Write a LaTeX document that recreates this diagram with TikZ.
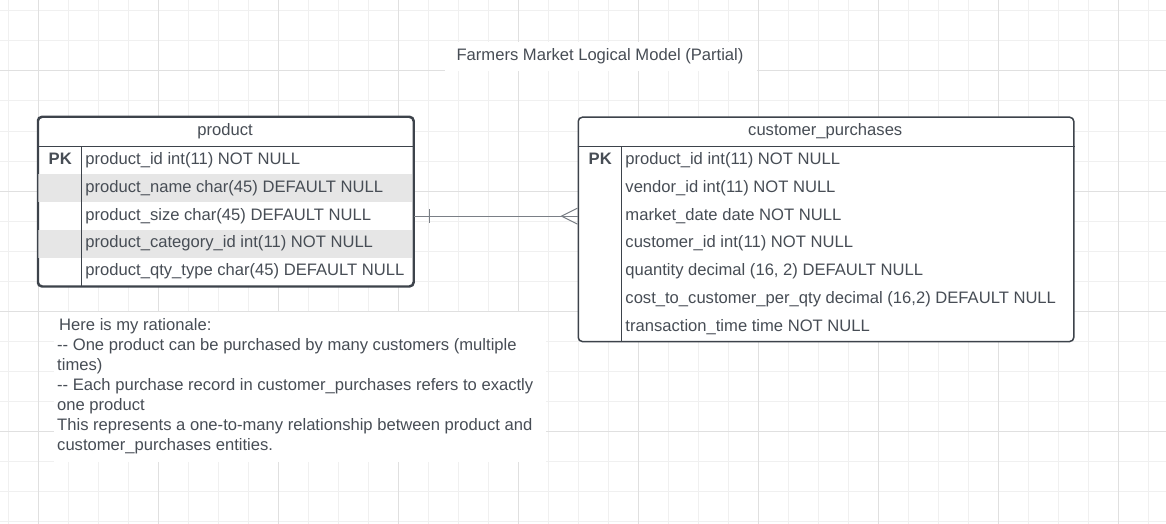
\documentclass[tikz,border=0pt]{standalone}
\usepackage{fontspec}
\setmainfont{Liberation Sans}
\usetikzlibrary{calc}
\definecolor{ink}{HTML}{3D434B}
\definecolor{txt}{HTML}{474D55}
\definecolor{gridminor}{HTML}{F0F0F0}
\definecolor{gridmajor}{HTML}{E0E0E0}
\definecolor{shade}{HTML}{E6E6E6}
\definecolor{conn}{HTML}{7A7F86}
\tikzset{
  fnt/.style={font=\fontsize{16.6}{20}\selectfont},
  tablebox/.style={draw=ink, line width=1.5pt, fill=white, rounded corners=4pt, inner sep=0pt, anchor=north west},
  rowbox/.style={inner sep=0pt, anchor=north west, minimum height=27.75pt},
  shaded/.style={rowbox, fill=shade},
  celltext/.style={fnt, text=txt, inner sep=0pt, anchor=west, text height=11.5pt, text depth=3.5pt},
  pktext/.style={celltext, anchor=center, font=\fontsize{16.6}{20}\selectfont\bfseries},
  headtext/.style={celltext, anchor=center},
  sepline/.style={draw=ink, line width=1.5pt},
  connector/.style={draw=conn, line width=1pt},
  whitebg/.style={fill=white, inner sep=0pt, anchor=north west}
}
\begin{document}
\begin{tikzpicture}[x=1pt,y=-1pt]
\fill[white] (0,0) rectangle (1166,524);
\useasboundingbox (0,0) rectangle (1166,524);
% grid
\foreach \x in {8,38,...,1165} \draw[gridminor, line width=1pt] (\x,0) -- (\x,524);
\foreach \y in {11,41,...,523} \draw[gridminor, line width=1pt] (0,\y) -- (1166,\y);
\foreach \x in {38,158,...,1165} \draw[gridmajor, line width=1pt] (\x,0) -- (\x,524);
\foreach \y in {71,191,...,523} \draw[gridmajor, line width=1pt] (0,\y) -- (1166,\y);

% title
\node[whitebg, minimum width=312pt, minimum height=29pt] (titlebg) at (445,42) {};
\node[headtext] (title) at (600,57) {Farmers Market Logical Model (Partial)};

% ---------- product table ----------
\node[tablebox, minimum width=375pt, minimum height=168.75pt] (product) at (37.5,116.5) {};
\node[headtext] (ptitle) at (225,131.5) {product};
\node[rowbox, minimum width=373.5pt] (p1) at (38.25,146.5) {};
\node[shaded, minimum width=373.5pt] (p2) at (38.25,174.25) {};
\node[rowbox, minimum width=373.5pt] (p3) at (38.25,202) {};
\node[shaded, minimum width=373.5pt] (p4) at (38.25,229.75) {};
\node[rowbox, minimum width=373.5pt] (p5) at (38.25,257.5) {};
\draw[sepline] (product.west |- p1.north) -- (product.east |- p1.north);
\draw[sepline] ($(product.west |- p1.north)+(44,0)$) -- ($(product.south west)+(44,0)$);
\node[pktext] (ppk) at ($(p1.west)+(22,0)$) {PK};
\node[celltext] (p1t) at ($(p1.west)+(47,0)$) {product\_id int(11) NOT NULL};
\node[celltext] (p2t) at ($(p2.west)+(47,0)$) {product\_name char(45) DEFAULT NULL};
\node[celltext] (p3t) at ($(p3.west)+(47,0)$) {product\_size char(45) DEFAULT NULL};
\node[celltext] (p4t) at ($(p4.west)+(47,0)$) {product\_category\_id int(11) NOT NULL};
\node[celltext] (p5t) at ($(p5.west)+(47,0)$) {product\_qty\_type char(45) DEFAULT NULL};
\draw[draw=ink, line width=1.5pt, rounded corners=4pt] (product.north west) rectangle (product.south east);

% ---------- customer_purchases table ----------
\node[tablebox, minimum width=495.5pt, minimum height=224.25pt] (cust) at (577.5,116.5) {};
\node[headtext] (ctitle) at (825.25,131.5) {customer\_purchases};
\node[rowbox, minimum width=494pt] (c1) at (578.25,146.5) {};
\node[rowbox, minimum width=494pt] (c2) at (578.25,174.25) {};
\node[rowbox, minimum width=494pt] (c3) at (578.25,202) {};
\node[rowbox, minimum width=494pt] (c4) at (578.25,229.75) {};
\node[rowbox, minimum width=494pt] (c5) at (578.25,257.5) {};
\node[rowbox, minimum width=494pt] (c6) at (578.25,285.25) {};
\node[rowbox, minimum width=494pt] (c7) at (578.25,313) {};
\draw[sepline] (cust.west |- c1.north) -- (cust.east |- c1.north);
\draw[sepline] ($(cust.west |- c1.north)+(44,0)$) -- ($(cust.south west)+(44,0)$);
\node[pktext] (cpk) at ($(c1.west)+(22,0)$) {PK};
\node[celltext] (c1t) at ($(c1.west)+(47,0)$) {product\_id int(11) NOT NULL};
\node[celltext] (c2t) at ($(c2.west)+(47,0)$) {vendor\_id int(11) NOT NULL};
\node[celltext] (c3t) at ($(c3.west)+(47,0)$) {market\_date date NOT NULL};
\node[celltext] (c4t) at ($(c4.west)+(47,0)$) {customer\_id int(11) NOT NULL};
\node[celltext] (c5t) at ($(c5.west)+(47,0)$) {quantity decimal (16, 2) DEFAULT NULL};
\node[celltext] (c6t) at ($(c6.west)+(47,0)$) {cost\_to\_customer\_per\_qty decimal (16,2) DEFAULT NULL};
\node[celltext] (c7t) at ($(c7.west)+(47,0)$) {transaction\_time time NOT NULL};

% ---------- relationship ----------
\coordinate (pend) at (product.east |- p3.west);
\coordinate (cend) at (cust.west |- c3.west);
\draw[connector] (pend) -- (cend);
\draw[connector] ($(pend)+(15,-7)$) -- ($(pend)+(15,7)$);
\draw[connector] ($(cend)+(0,-8)$) -- ($(cend)+(-16,0)$) -- ($(cend)+(0,8)$);

% ---------- rationale note ----------
\node[whitebg, minimum width=492.5pt, minimum height=150pt] (notebg) at (53.5,312) {};
\node[fnt, text=txt, inner sep=0pt, anchor=north west, align=left] (note) at (57,318.5)
  {\hspace{2pt}Here is my rationale:\\
   -{}- One product can be purchased by many customers (multiple\\
   times)\\
   -{}- Each purchase record in customer\_purchases refers to exactly\\
   one product\\
   This represents a one-to-many relationship between product and\\
   customer\_purchases entities.};
\end{tikzpicture}
\end{document}
